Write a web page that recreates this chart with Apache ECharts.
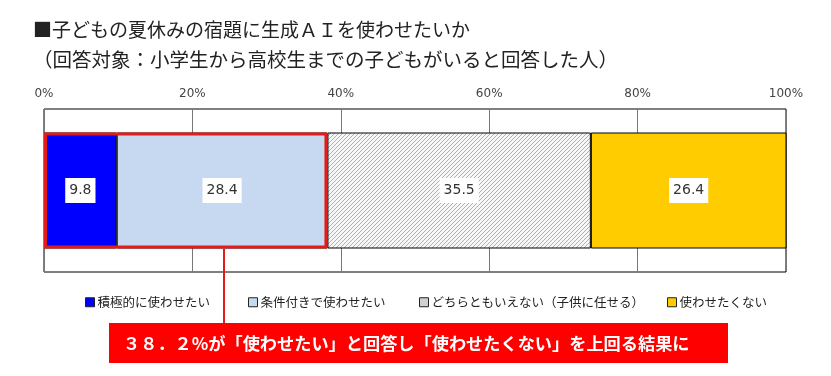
<!DOCTYPE html>
<html><head><meta charset="utf-8">
<script src="https://cdn.jsdelivr.net/npm/echarts@6/dist/echarts.min.js"></script>
<style>html,body{margin:0;padding:0;background:#fff}#c{width:831px;height:376px}</style>
</head><body><div id="c"></div>
<script>
const categories = ['回答'];
const seriesNames = ['積極的に使わせたい', '条件付きで使わせたい', 'どちらともいえない（子供に任せる）', '使わせたくない'];
const seriesValues = [[9.8], [28.4], [35.5], [26.4]];
const tickLabels = ['0%', '20%', '40%', '60%', '80%', '100%'];
const highlightValue = [38.2];
const titleLine1 = '■子どもの夏休みの宿題に生成ＡＩを使わせたいか';
const titleLine2 = '（回答対象：小学生から高校生までの子どもがいると回答した人）';
const calloutText = '３８．２%が「使わせたい」と回答し「使わせたくない」を上回る結果に';

// hatch pattern
const pc = document.createElement('canvas');
pc.width = 4; pc.height = 4;
const px = pc.getContext('2d');
px.fillStyle = '#f7f7f7'; px.fillRect(0, 0, 4, 4);
px.strokeStyle = '#b0b0b0'; px.lineWidth = 1;
px.beginPath(); px.moveTo(0, 4); px.lineTo(4, 0); px.stroke();
px.beginPath(); px.moveTo(-1, 1); px.lineTo(1, -1); px.stroke();
px.beginPath(); px.moveTo(3, 5); px.lineTo(5, 3); px.stroke();

const colors = ['#0000FF', '#C6D9F0', {image: pc, repeat: 'repeat'}, '#FFCC00'];
const legendColors = ['#0000FF', '#C6D9F0', '#D0D0D0', '#FFCC00'];
const legendLeft = [80, 243, 414, 662];
const CJK = '"Noto Sans CJK JP", "Noto Sans", sans-serif';

const chart = echarts.init(document.getElementById('c'));
const series = seriesNames.map((n, i) => ({
  name: n, type: 'bar', stack: 'all', barWidth: 116,
  data: seriesValues[i],
  itemStyle: {color: colors[i], borderColor: '#000', borderWidth: 1},
  label: {
    show: true, position: 'inside', formatter: p => p.value.toFixed(1),
    backgroundColor: '#fff', padding: [6, 4, 5, 4], color: '#333',
    fontSize: 14, fontFamily: 'DejaVu Sans'
  },
  emphasis: {disabled: true}
}));
series.push({
  name: 'highlight', type: 'bar', barWidth: 116, barGap: '-100%', z: 5,
  data: highlightValue, silent: true,
  itemStyle: {color: 'rgba(0,0,0,0)', borderColor: '#E31B1B', borderWidth: 3},
  label: {show: false}
});

chart.setOption({
  backgroundColor: '#fff',
  animation: false,
  title: [
    {text: titleLine1, left: 28, top: 15, textStyle: {fontFamily: CJK, fontSize: 19, fontWeight: 'normal', color: '#222'}},
    {text: titleLine2, left: 28, top: 45, textStyle: {fontFamily: CJK, fontSize: 19.5, fontWeight: 'normal', color: '#222'}}
  ],
  legend: seriesNames.map((n, i) => ({
    data: [{name: n, itemStyle: {color: legendColors[i], borderColor: '#222', borderWidth: 1}}],
    left: legendLeft[i], top: 291, itemWidth: 9, itemHeight: 9, itemGap: 4,
    icon: 'rect', selectedMode: false,
    textStyle: {fontFamily: CJK, fontSize: 12.5, color: '#222', padding: [0, 0, 0, -2]}
  })),
  grid: {left: 44, right: 45, top: 109, height: 163, show: true, borderColor: '#000', borderWidth: 1, containLabel: false},
  xAxis: {
    type: 'value', position: 'top', min: 0, max: 100, interval: 20,
    axisLine: {show: false}, axisTick: {show: false},
    splitLine: {show: true, lineStyle: {color: '#777', width: 1}},
    axisLabel: {formatter: v => tickLabels[v / 20], color: '#444', fontSize: 12, fontFamily: 'DejaVu Sans', margin: 9}
  },
  yAxis: {
    type: 'category', data: categories, inverse: true,
    axisLine: {show: false}, axisTick: {show: false}, axisLabel: {show: false}
  },
  series: series,
  graphic: [
    {type: 'line', shape: {x1: 224, y1: 249, x2: 224, y2: 323}, style: {stroke: '#E31B1B', lineWidth: 2}, z: 10},
    {type: 'rect', shape: {x: 109, y: 323, width: 619, height: 40}, style: {fill: '#FF0000'}, z: 10},
    {type: 'text', x: 123, y: 343, style: {text: calloutText, fill: '#fff', font: 'bold 17.2px "Noto Sans CJK JP"', verticalAlign: 'middle'}, z: 11}
  ]
});
</script></body></html>
